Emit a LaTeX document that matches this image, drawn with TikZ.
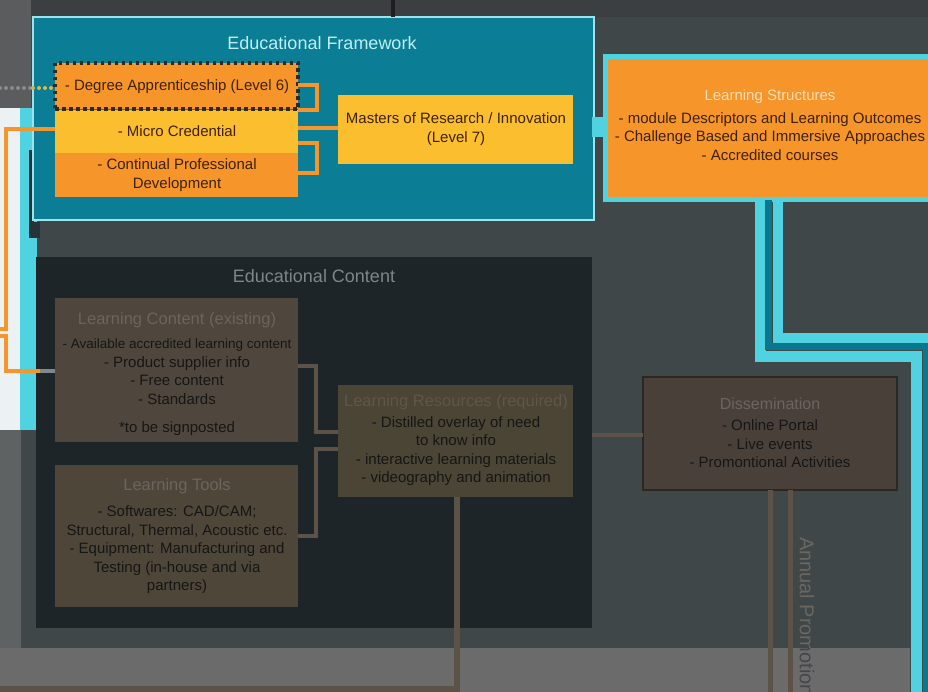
\documentclass[tikz,border=0pt]{standalone}
\usepackage{fontspec}
\setmainfont{Liberation Sans}
\definecolor{slate}{HTML}{404749}
\definecolor{topband}{HTML}{3C3F41}
\definecolor{outergray}{HTML}{5B5C5D}
\definecolor{paleside}{HTML}{ECF1F4}
\definecolor{cyanband}{HTML}{4FD3E1}
\definecolor{deepteal}{HTML}{07788E}
\definecolor{lowgray}{HTML}{5E6263}
\definecolor{floorgray}{HTML}{6B6B6C}
\definecolor{edgedark}{HTML}{26343A}
\definecolor{efteal}{HTML}{0B7D95}
\definecolor{efedge}{HTML}{9EE3EC}
\definecolor{eftitle}{HTML}{BDEFF6}
\definecolor{amber}{HTML}{F6952A}
\definecolor{sun}{HTML}{FBBE2E}
\definecolor{inkbrown}{HTML}{3E2108}
\definecolor{dotink}{HTML}{2E2A22}
\definecolor{lstitle}{HTML}{FDDDB5}
\definecolor{ecdark}{HTML}{1D2528}
\definecolor{ectitle}{HTML}{7C878B}
\definecolor{lcfill}{HTML}{4F473D}
\definecolor{ltfill}{HTML}{4E4739}
\definecolor{lrfill}{HTML}{4B4536}
\definecolor{dsfill}{HTML}{4A403A}
\definecolor{dsedge}{HTML}{2A2725}
\definecolor{subtitle}{HTML}{6B645F}
\definecolor{lrtitle}{HTML}{5F5647}
\definecolor{wire}{HTML}{5C5248}
\definecolor{darkink}{HTML}{161616}
\definecolor{dotgray}{HTML}{8A8A8A}
\definecolor{dotgold}{HTML}{D9B84A}
\definecolor{stubgray}{HTML}{7F898C}
\definecolor{rotink}{HTML}{696760}
\definecolor{rotinklow}{HTML}{45464A}
\begin{document}
\begin{tikzpicture}[x=1pt,y=-1pt,
  every node/.style={inner sep=0pt,outer sep=0pt},
  panel/.style={anchor=north west,draw=none},
  body/.style={align=center,font=\fontsize{15}{18.5}\selectfont},
  head/.style={font=\fontsize{18}{21}\selectfont},
  oline/.style={draw=amber,line width=4pt},
  wireline/.style={draw=wire,line width=4pt},
  vlabel/.style={rotate=-90,anchor=west,font=\fontsize{20}{22}\selectfont},
]
\useasboundingbox (0,0) rectangle (928,692);
\clip (0,0) rectangle (928,692);

% backdrop
\fill[slate] (0,0) rectangle (928,692);
\fill[topband] (20,0) rectangle (928,17);
\fill[outergray] (0,0) rectangle (31,108);
\fill[paleside] (0,108) rectangle (20,430);
\fill[cyanband] (20,108) rectangle (37,430);
\fill[lowgray] (0,430) rectangle (21,648);
\fill[floorgray] (0,648) rectangle (910,692);
\fill[edgedark] (29,150) rectangle (34,238);
\fill[edgedark] (29,222) rectangle (40,238);

% educational framework panel
\node[panel,fill=efteal,draw=efedge,line width=1.5pt,minimum width=561pt,minimum height=203pt] (ef) at (33,17) {};
\node[head,text=eftitle] (efT) at (322,43) {Educational Framework};
\coordinate (topIn) at (393,0);
\draw[line width=4pt,draw=black!88] (topIn) -- (topIn |- ef.north);

\node[panel,fill=sun,minimum width=243pt,minimum height=43pt] (micro) at (55,110) {};
\node[panel,fill=amber,minimum width=243pt,minimum height=44pt] (cpd) at (55,153) {};
\node[panel,fill=amber,draw=dotink,line width=3.5pt,dash pattern=on 3.5pt off 3.5pt,minimum width=243pt,minimum height=46pt] (deg) at (55,63) {};
\node[panel,fill=sun,minimum width=235pt,minimum height=69pt] (mast) at (338,95) {};

\node[body,text=inkbrown] (degT) at (177,87) {- Degree Apprenticeship (Level 6)};
\node[body,text=inkbrown] (microT) at (177,131) {- Micro Credential};
\node[body,text=inkbrown] (cpdT) at (177,175) {- Continual Professional\\Development};
\node[body,text=inkbrown] (mastT) at (456,129) {Masters of Research / Innovation\\(Level 7)};

% links inside the framework
\draw[oline] (deg.east |- 0,85) -| (317,110) -- (micro.east |- 0,110);
\draw[oline] (micro.east |- 0,143) -| (317,173) -- (cpd.east |- 0,173);
\draw[oline] (micro.east |- 0,128) -- (mast.west |- 0,128);

% dotted feed into the apprenticeship box
\coordinate (dotIn) at (0,88);
\coordinate (dotMid) at (33,88);
\draw[dotgray,line width=4pt,line cap=round,dash pattern=on 0pt off 6pt] (dotIn) -- (dotMid);
\draw[dotgold,line width=4pt,line cap=round,dash pattern=on 0pt off 6pt] (dotMid) -- (deg.west |- dotMid);

% learning structures
\fill[cyanband] (592,117) rectangle (606,137);
\node[panel,fill=amber,draw=cyanband,line width=5pt,minimum width=335pt,minimum height=143pt] (ls) at (605,57) {};
\node[body,text=inkbrown] (lsT) at (770,125) {{\color{lstitle}Learning Structures}\\[4.5pt]- module Descriptors and Learning Outcomes\\- Challenge Based and Immersive Approaches\\- Accredited courses};
\draw[cyanband,line width=11pt] (760,0 |- ls.south) |- (916,356) -- (916,700);
\draw[deepteal,line width=7pt] (768.5,0 |- ls.south) |- (926,346) -- (926,700);
\draw[cyanband,line width=10pt] (777.5,0 |- ls.south) |- (940,337.5);

% educational content panel
\node[panel,fill=ecdark,minimum width=556pt,minimum height=371pt] (ec) at (36,257) {};
\node[head,text=ectitle] (ecT) at (314,276) {Educational Content};

\node[panel,fill=lcfill,minimum width=243pt,minimum height=144pt] (lc) at (55,298) {};
\node[panel,fill=ltfill,minimum width=243pt,minimum height=142pt] (lt) at (55,465) {};
\node[panel,fill=lrfill,minimum width=235pt,minimum height=112pt] (lr) at (338,385) {};
\node[panel,fill=dsfill,draw=dsedge,line width=1.5pt,minimum width=254pt,minimum height=113pt] (ds) at (643,377) {};

\node[body,text=darkink] (lcT) at (177,374) {{\fontsize{16.5}{18.5}\selectfont\color{subtitle}Learning Content (existing)}\\[6pt]{\fontsize{13.5}{18.5}\selectfont - Available accredited learning content}\\- Product supplier info\\- Free content\\- Standards\\[9.5pt]*to be signposted};
\node[body,text=darkink] (ltT) at (177,536) {{\fontsize{16.5}{18.5}\selectfont\color{subtitle}Learning Tools}\\[8pt]- Softwares: CAD/CAM;\\Structural, Thermal, Acoustic etc.\\- Equipment: Manufacturing and\\Testing (in-house and via\\partners)};
\node[body,text=darkink] (lrT) at (456,440) {{\fontsize{16.5}{18.5}\selectfont\color{lrtitle}Learning Resources (required)}\\[2.5pt]- Distilled overlay of need\\to know info\\- interactive learning materials\\- videography and animation};
\node[body,text=darkink] (dsT) at (770,433) {{\fontsize{16}{18.5}\selectfont\color{subtitle}Dissemination}\\[3pt]- Online Portal\\- Live events\\- Promontional Activities};

% links between content boxes
\draw[wireline] (lc.east |- 0,366) -| (316,432) -- (lr.west |- 0,432);
\draw[wireline] (lt.east |- 0,536) -| (316,449) -- (lr.west |- 0,449);
\coordinate (ecOut) at (ec.east |- 0,435);
\draw[wireline] (ecOut) -- (ds.west |- ecOut);
\coordinate (floorOut) at (0,688.5);
\draw[wire,line width=6pt] (457,0 |- lr.south) |- (floorOut);
\coordinate (dsDownA) at (770,700);
\coordinate (dsDownB) at (790,700);
\draw[wire,line width=5pt] (dsDownA |- ds.south) -- (dsDownA);
\draw[wire,line width=5pt] (dsDownB |- ds.south) -- (dsDownB);

% vertical label: light on the slate, dark on the floor band
\begin{scope}
  \clip (780,0) rectangle (830,648);
  \node[vlabel,text=rotink] (annual) at (807,537) {Annual Promotion};
\end{scope}
\begin{scope}
  \clip (780,648) rectangle (830,692);
  \node[vlabel,text=rotinklow] (annualLow) at (807,537) {Annual Promotion};
\end{scope}

% orange feeds on the left edge
\coordinate (exitA) at (0,329);
\draw[oline] (micro.west |- 0,129) -| (5.5,329) -- (exitA);
\coordinate (entB) at (0,336);
\coordinate (bendB) at (40,371);
\draw[oline] (entB) -| (5.5,371) -- (bendB);
\draw[stubgray,line width=4pt] (bendB) -- (lc.west |- bendB);
\end{tikzpicture}
\end{document}
